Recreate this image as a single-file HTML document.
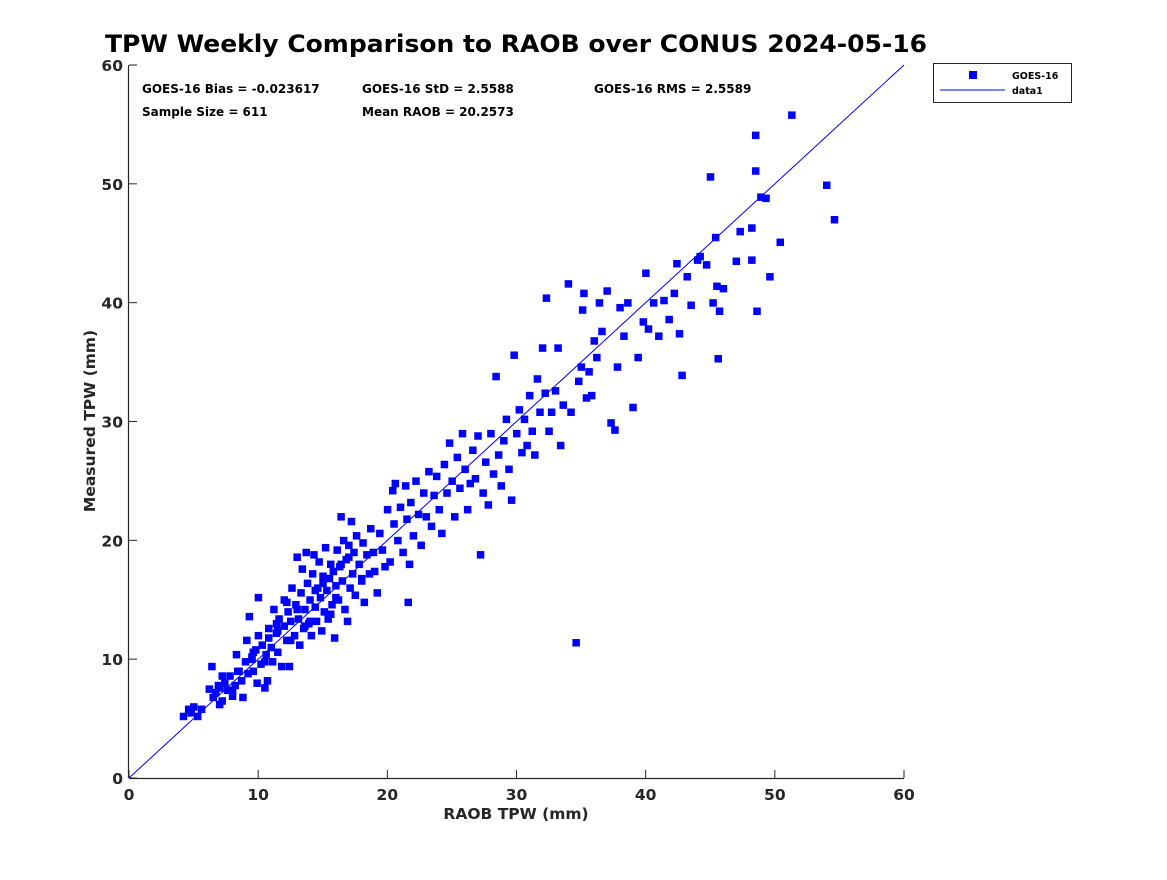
<!DOCTYPE html>
<html><head><meta charset="utf-8"><style>
body{margin:0;background:#fff;}
svg text{font-family:"DejaVu Sans","Liberation Sans",sans-serif;font-weight:bold;}
</style></head><body>
<svg id="chart" width="1167" height="875" xmlns="http://www.w3.org/2000/svg">
<text x="516" y="52" font-size="24" text-anchor="middle" fill="#000" textLength="822" lengthAdjust="spacingAndGlyphs">TPW Weekly Comparison to RAOB over CONUS 2024-05-16</text>
<text x="142" y="93" font-size="12" fill="#000">GOES-16 Bias = -0.023617</text>
<text x="362" y="93" font-size="12" fill="#000">GOES-16 StD = 2.5588</text>
<text x="594" y="93" font-size="12" fill="#000">GOES-16 RMS = 2.5589</text>
<text x="142" y="116" font-size="12" fill="#000">Sample Size = 611</text>
<text x="362" y="116" font-size="12" fill="#000">Mean RAOB = 20.2573</text>
<text x="516" y="819" font-size="15.5" text-anchor="middle" fill="#262626">RAOB TPW (mm)</text>
<text transform="translate(95,421) rotate(-90)" font-size="15.5" text-anchor="middle" fill="#262626">Measured TPW (mm)</text>
<g id="axes"></g>
<g id="marks"></g>
<g>
<rect x="933.5" y="63.5" width="138" height="39" fill="#fff" stroke="#262626" stroke-width="1"/>
<rect x="969" y="71" width="8" height="8" fill="#0000ff"/>
<line x1="940" y1="90" x2="1005" y2="90" stroke="#0000ff" stroke-width="1"/>
<text x="1012" y="79" font-size="9.5" fill="#000">GOES-16</text>
<text x="1012" y="94" font-size="9.5" fill="#000">data1</text>
</g>
</svg>
<script>
const xTicks=[0,10,20,30,40,50,60];
const yTicks=[0,10,20,30,40,50,60];
const lineX=[0,60];
const lineY=[0,60];
const raobX=[4.2,4.6,4.8,5.0,5.3,5.6,6.2,6.4,6.5,6.7,6.9,7.0,7.2,7.4,7.6,7.8,8.0,8.2,8.3,8.5,8.7,8.8,9.0,9.1,9.2,9.3,9.5,9.6,9.8,9.9,10.0,10.0,10.2,10.3,10.5,10.6,10.7,10.8,11.0,11.1,11.2,11.4,11.5,11.6,11.8,12.0,12.0,12.2,12.3,12.4,12.5,12.6,12.8,12.9,13.0,13.1,13.2,13.3,13.4,13.5,13.6,13.7,13.8,13.9,14.0,14.1,14.2,14.3,14.4,14.5,14.6,14.7,14.8,14.9,15.0,15.1,15.2,15.3,15.4,15.5,15.6,15.7,15.8,15.9,16.0,16.1,16.2,16.3,16.4,16.5,16.6,16.7,16.8,16.9,17.0,17.1,17.2,17.3,17.4,17.5,17.6,17.8,18.0,18.1,18.2,18.4,18.6,18.7,18.9,19.2,19.4,19.6,19.8,20.0,20.2,20.4,20.5,20.6,20.8,21.0,21.2,21.4,21.5,21.6,21.7,21.8,22.0,22.2,22.4,22.6,22.8,23.0,23.2,23.4,23.6,23.8,24.0,24.2,24.4,24.6,24.8,25.0,25.2,25.4,25.6,25.8,26.0,26.2,26.4,26.6,26.8,27.0,27.2,27.4,27.6,27.8,28.0,28.2,28.4,28.6,28.8,29.0,29.2,29.4,29.6,29.8,30.0,30.2,30.4,30.6,30.8,31.0,31.2,31.4,31.6,31.8,32.0,32.2,32.3,32.5,32.7,33.0,33.2,33.4,33.6,34.0,34.2,34.6,34.8,35.0,35.1,35.2,35.4,35.6,35.8,36.0,36.2,36.4,36.6,37.0,37.3,37.6,37.8,38.0,38.3,38.6,39.0,39.4,39.8,40.0,40.2,40.6,41.0,41.4,41.8,42.2,42.4,42.8,42.6,43.2,43.5,44.0,44.2,44.7,45.0,45.2,45.4,45.5,45.6,45.7,46.0,47.0,47.3,48.2,48.2,48.5,48.5,48.6,48.9,49.3,49.6,50.4,51.3,54.0,54.6,
 7.0,8.0,9.5,10.5,11.5,12.5,13.0,14.0,15.0,16.0,17.0,18.0,19.0,12.2,13.6,14.4,15.6,16.4,11.4,10.8,9.6,8.4,7.2];
const goesY=[5.2,5.8,5.5,6.0,5.2,5.8,7.5,9.4,6.8,7.2,7.8,6.2,6.5,8.0,7.4,8.6,6.9,7.8,10.4,9.0,8.2,6.8,9.8,11.6,8.8,13.6,10.2,9.0,10.8,8.0,12.0,15.2,9.6,11.2,7.6,10.4,8.2,12.6,11.0,9.8,14.2,12.2,10.6,13.4,9.4,12.8,15.0,11.6,14.0,9.4,13.2,16.0,12.0,14.6,18.6,13.4,11.2,15.6,17.6,12.6,14.2,19.0,16.4,13.0,15.0,12.0,17.2,18.8,14.4,13.2,16.0,18.2,15.2,12.4,17.0,14.0,19.4,15.8,13.4,16.8,18.0,14.6,17.4,11.8,16.2,19.2,15.0,17.8,22.0,16.6,20.0,14.2,18.4,13.2,19.6,16.0,21.6,17.2,19.0,15.4,20.4,18.0,16.8,19.8,14.8,18.8,17.2,21.0,19.0,15.6,20.6,19.2,17.8,22.6,18.2,24.2,21.4,24.8,20.0,22.8,19.0,24.6,21.8,14.8,18.0,23.2,20.4,25.0,22.2,19.6,24.0,22.0,25.8,21.2,23.8,25.4,22.6,20.6,26.4,24.0,28.2,25.0,22.0,27.0,24.4,29.0,26.0,22.6,24.8,27.6,25.2,28.8,18.8,24.0,26.6,23.0,29.0,25.6,33.8,27.2,24.6,28.4,30.2,26.0,23.4,35.6,29.0,31.0,27.4,30.2,28.0,32.2,29.2,27.2,33.6,30.8,36.2,32.4,40.4,29.2,30.8,32.6,36.2,28.0,31.4,41.6,30.8,11.4,33.4,34.6,39.4,40.8,32.0,34.2,32.2,36.8,35.4,40.0,37.6,41.0,29.9,29.3,34.6,39.6,37.2,40.0,31.2,35.4,38.4,42.5,37.8,40.0,37.2,40.2,38.6,40.8,43.3,33.9,37.4,42.2,39.8,43.6,43.9,43.2,50.6,40.0,45.5,41.4,35.3,39.3,41.2,43.5,46.0,46.3,43.6,54.1,51.1,39.3,48.9,48.8,42.2,45.1,55.8,49.9,47.0,
 7.6,7.4,10.0,9.8,12.4,11.6,14.2,13.2,16.4,15.2,18.6,16.6,17.4,14.8,12.8,15.8,13.8,18.0,13.0,11.8,10.6,9.0,8.6];
const X0=129,X1=904,Y0=778,Y1=65;
const xs=v=>X0+(v-0)/60*(X1-X0);
const ys=v=>Y0-(v-0)/60*(Y0-Y1);
const NS="http://www.w3.org/2000/svg";
const ax=document.getElementById('axes'),mk=document.getElementById('marks');
function el(t,a,p){const e=document.createElementNS(NS,t);for(const k in a)e.setAttribute(k,a[k]);p.appendChild(e);return e;}
let l=el('line',{x1:X0,y1:Y0+0.5,x2:X1,y2:Y0+0.5,stroke:'#262626','stroke-width':1.2},ax);


l=el('line',{x1:X0-0.5,y1:Y0,x2:X0-0.5,y2:Y1,stroke:'#262626','stroke-width':1.2},ax);


xTicks.forEach(v=>{
 el('line',{x1:xs(v),y1:Y0,x2:xs(v),y2:Y0-8,stroke:'#262626'},ax);
 const t=el('text',{x:xs(v),y:Y0+22,'font-size':15.5,'text-anchor':'middle',fill:'#262626'},ax);
 
 
 t.textContent=v;
});
yTicks.forEach(v=>{
 el('line',{x1:X0,y1:ys(v),x2:X0+8,y2:ys(v),stroke:'#262626'},ax);
 const t=el('text',{x:X0-6,y:ys(v)+6,'font-size':15.5,'text-anchor':'end',fill:'#262626'},ax);
 
 
 t.textContent=v;
});
for(let i=0;i<raobX.length;i++){
 const r=el('rect',{x:xs(raobX[i])-3.5,y:ys(goesY[i])-3.5,width:7.5,height:7.5,fill:'#0000ff'},mk);
 
 
}
const ln=el('line',{x1:xs(lineX[0]),y1:ys(lineY[0]),x2:xs(lineX[1]),y2:ys(lineY[1]),stroke:'#0000ff','stroke-width':1},mk);


</script>
</body></html>
